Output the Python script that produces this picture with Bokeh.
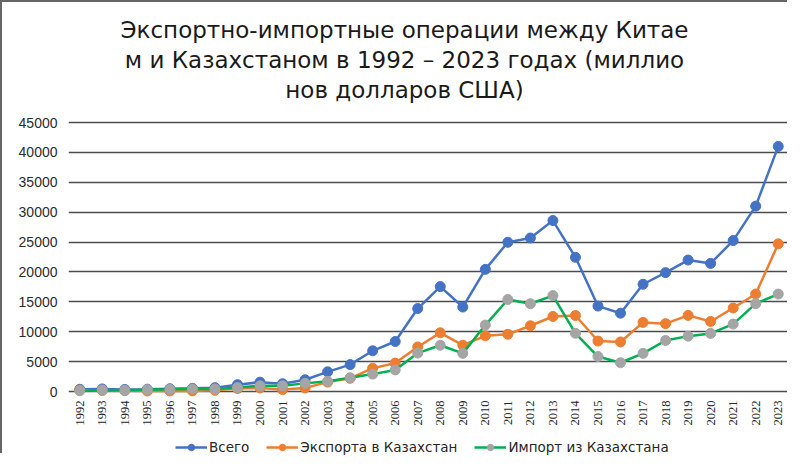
import math
from bokeh.plotting import figure
from bokeh.models import Range1d, FixedTicker, Label, Legend, LegendItem, ColumnDataSource
from bokeh.embed import file_html
from bokeh.resources import INLINE

years = [1992, 1993, 1994, 1995, 1996, 1997, 1998, 1999, 2000, 2001, 2002,
         2003, 2004, 2005, 2006, 2007, 2008, 2009, 2010, 2011, 2012, 2013,
         2014, 2015, 2016, 2017, 2018, 2019, 2020, 2021, 2022, 2023]
total = [370, 430, 340, 390, 460, 530, 640, 1140, 1560, 1290, 1960,
         3290, 4500, 6810, 8360, 13880, 17550, 14130, 20430, 24960, 25680, 28600,
         22450, 14290, 13100, 17940, 19880, 21990, 21430, 25250, 31010, 41000]
export = [230, 170, 140, 80, 100, 100, 200, 490, 600, 330, 600,
          1570, 2210, 3900, 4750, 7450, 9820, 7750, 9320, 9570, 11000, 12550,
          12710, 8440, 8290, 11560, 11350, 12730, 11710, 13970, 16310, 24700]
imports = [140, 260, 200, 310, 360, 430, 430, 650, 960, 960, 1360,
           1720, 2290, 2910, 3610, 6430, 7730, 6380, 11110, 15390, 14680, 16050,
           9740, 5850, 4810, 6380, 8530, 9260, 9720, 11280, 14700, 16300]
year_labels = [str(y) for y in years]
y_ticks = [0, 5000, 10000, 15000, 20000, 25000, 30000, 35000, 40000, 45000]
series_names = ["Всего", "Экспорта в Казахстан", "Импорт из Казахстана"]
title_lines = ["Экспортно-импортные операции между Китае",
               "м и Казахстаном в 1992 – 2023 годах (миллио",
               "нов долларов США)"]

BLUE = "#4472C4"
ORANGE = "#ED7D31"
GREEN = "#00B050"
GRAY = "#A5A5A5"

# layout (canvas pixels); the frame spans the whole canvas height so that the
# title, the category labels and the legend all sit inside it
W, H = 787, 453
FL = 66            # frame left
ZERO = 389         # pixel row of value 0
TOP = 120          # pixel row of the top tick value
ppu = (ZERO - TOP) / y_ticks[-1]          # pixels per unit
y_end = ZERO / ppu
y_start = -(H - ZERO) / ppu
x0, x1 = years[0] - 0.5, years[-1] + 0.5
frame_w = W - FL

def sx_to_data(px):
    return x0 + (px - FL) * (x1 - x0) / frame_w

def sy_to_data(py):
    return (ZERO - py) / ppu

p = figure(width=W, height=H, output_backend="svg", toolbar_location=None,
           x_range=Range1d(x0, x1), y_range=Range1d(y_start, y_end),
           x_axis_location=None,
           min_border_left=FL, min_border_right=0, min_border_top=0,
           min_border_bottom=0, title=None)
p.styles = {"border-left": "2px solid #666666", "border-top": "2px solid #666666"}
p.outline_line_color = None
p.background_fill_color = "white"
p.border_fill_color = "white"

# y axis
p.yaxis.ticker = FixedTicker(ticks=y_ticks)
p.yaxis.axis_line_color = None
p.yaxis.major_tick_line_color = None
p.yaxis.minor_tick_line_color = None
p.yaxis.major_tick_out = 0
p.yaxis.major_tick_in = 0
p.yaxis.major_label_standoff = 11
p.yaxis.major_label_text_font = "Liberation Sans"
p.yaxis.major_label_text_font_size = "14px"
p.yaxis.major_label_text_color = "#2b2b2b"

p.xgrid.visible = False
p.ygrid.ticker = FixedTicker(ticks=y_ticks)
p.ygrid.grid_line_color = "#4d4d4d"
p.ygrid.grid_line_width = 1.3

# category labels along the bottom (rotated, reading upwards)
lab_src = ColumnDataSource(dict(x=years, text=year_labels,
                                y=[sy_to_data(ZERO + 9)] * len(years)))
p.text(x="x", y="y", text="text", source=lab_src, angle=math.pi / 2,
       text_align="right", text_baseline="middle",
       text_font="Liberation Sans", text_font_size="12.5px", text_color="#262626")

items = []
for name, vals, lc, mc in [(series_names[0], total, BLUE, BLUE),
                           (series_names[1], export, ORANGE, ORANGE),
                           (series_names[2], imports, GREEN, GRAY)]:
    l = p.line(years, vals, line_color=lc, line_width=2.5)
    s = p.scatter(years, vals, size=10, fill_color=mc, line_color=mc)
    items.append(LegendItem(label=name, renderers=[l, s]))

legend = Legend(items=items, orientation="horizontal", location=(107, 0),
                border_line_color=None, background_fill_alpha=0,
                label_text_font="DejaVu Sans", label_text_font_size="13.5px",
                label_text_color="#262626", glyph_width=32, glyph_height=16,
                label_standoff=2, spacing=17, padding=0, margin=0)
p.add_layout(legend, "center")

for txt, cy in zip(title_lines, [27, 57, 87]):
    p.add_layout(Label(x=sx_to_data(402), y=sy_to_data(cy), text=txt,
                       text_align="center", text_baseline="middle",
                       text_font="DejaVu Sans", text_font_size="23px",
                       text_color="#1a1a1a"))

open("out.html", "w").write(file_html(p, INLINE))
